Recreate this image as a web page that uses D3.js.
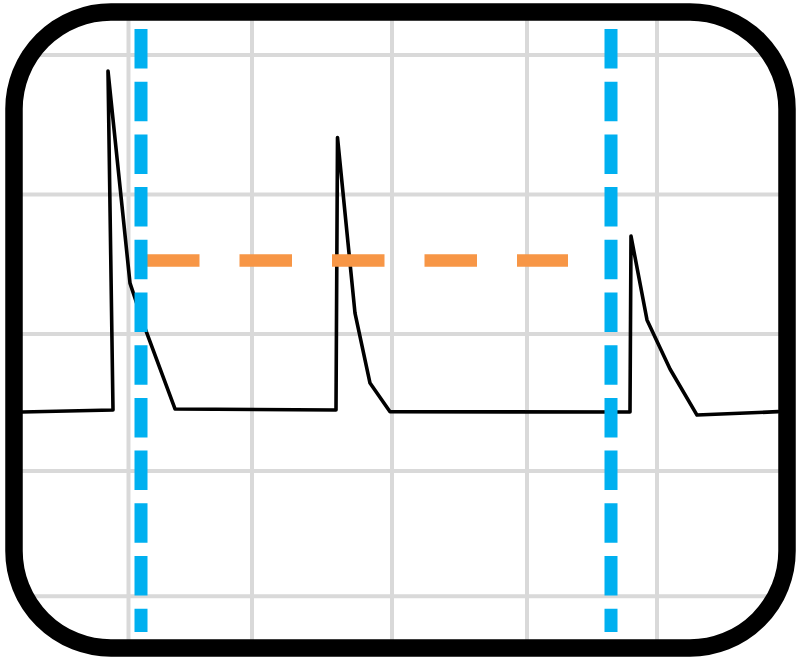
<!DOCTYPE html>
<html>
<head>
<meta charset="utf-8">
<script src="https://cdn.jsdelivr.net/npm/d3@7"></script>
<style>
html,body{margin:0;padding:0;background:#fff;}
svg{display:block;}
</style>
</head>
<body>
<svg id="chart" width="798" height="657"></svg>
<script>
// ---- data (time units / signal units) ----
const waveT = [0, 91, 86, 108, 123, 153, 314, 315.5, 333, 348, 368, 608, 609, 625, 648, 675, 756];
const waveV = [0, 0.6, 100, 37.8, 24.6, 0.9, 0.6, 80.5, 29, 8.5, 0.1, 0, 51.6, 27, 12.6, -0.9, 0.1];
const gridT = [106.5, 230, 370, 505, 635];
const gridV = [104.7, 63.8, 22.9, -17.3, -54];
const cursorT = [119, 589];
const levelV = [44.4];
const levelSpan = [125, 546];

const svg = d3.select("#chart");
const x = d3.scaleLinear().domain([0, 756]).range([22, 778]);
const y = d3.scaleLinear().domain([0, 100]).range([412, 71]);

// clip for grid
const defs = svg.append("defs");
defs.append("clipPath").attr("id", "frameClip")
  .append("rect").attr("x", 5).attr("y", 3).attr("width", 791).attr("height", 654)
  .attr("rx", 106).attr("ry", 106);

const grid = svg.append("g").attr("clip-path", "url(#frameClip)");
grid.selectAll("line.v").data(gridT).join("line")
  .attr("class", "v")
  .attr("x1", d => x(d)).attr("x2", d => x(d))
  .attr("y1", 10).attr("y2", 650)
  .attr("stroke", "#d9d9d9").attr("stroke-width", 4);
grid.selectAll("line.h").data(gridV).join("line")
  .attr("class", "h")
  .attr("x1", 10).attr("x2", 790)
  .attr("y1", d => y(d)).attr("y2", d => y(d))
  .attr("stroke", "#d9d9d9").attr("stroke-width", 4);

// waveform
const pts = waveT.map((t, i) => [t, waveV[i]]);
svg.append("path")
  .datum(pts)
  .attr("d", d3.line().x(d => x(d[0])).y(d => y(d[1])))
  .attr("fill", "none").attr("stroke", "#000").attr("stroke-width", 3.6)
  .attr("stroke-linejoin", "round").attr("stroke-linecap", "round");

// orange level cursor
svg.selectAll("line.level").data(levelV).join("line")
  .attr("class", "level")
  .attr("x1", x(levelSpan[0])).attr("x2", x(levelSpan[1]))
  .attr("y1", d => y(d)).attr("y2", d => y(d))
  .attr("stroke", "#f79646").attr("stroke-width", 12.5)
  .attr("stroke-dasharray", "52.5 40");

// blue time cursors
svg.selectAll("line.cursor").data(cursorT).join("line")
  .attr("class", "cursor")
  .attr("x1", d => x(d)).attr("x2", d => x(d))
  .attr("y1", 29).attr("y2", 632)
  .attr("stroke", "#00b0f0").attr("stroke-width", 13)
  .attr("stroke-dasharray", "39.5 13.2");

// frame
svg.append("rect")
  .attr("x", 14).attr("y", 12).attr("width", 773).attr("height", 636)
  .attr("rx", 97).attr("ry", 97)
  .attr("fill", "none").attr("stroke", "#000").attr("stroke-width", 17.5);
</script>
</body>
</html>
